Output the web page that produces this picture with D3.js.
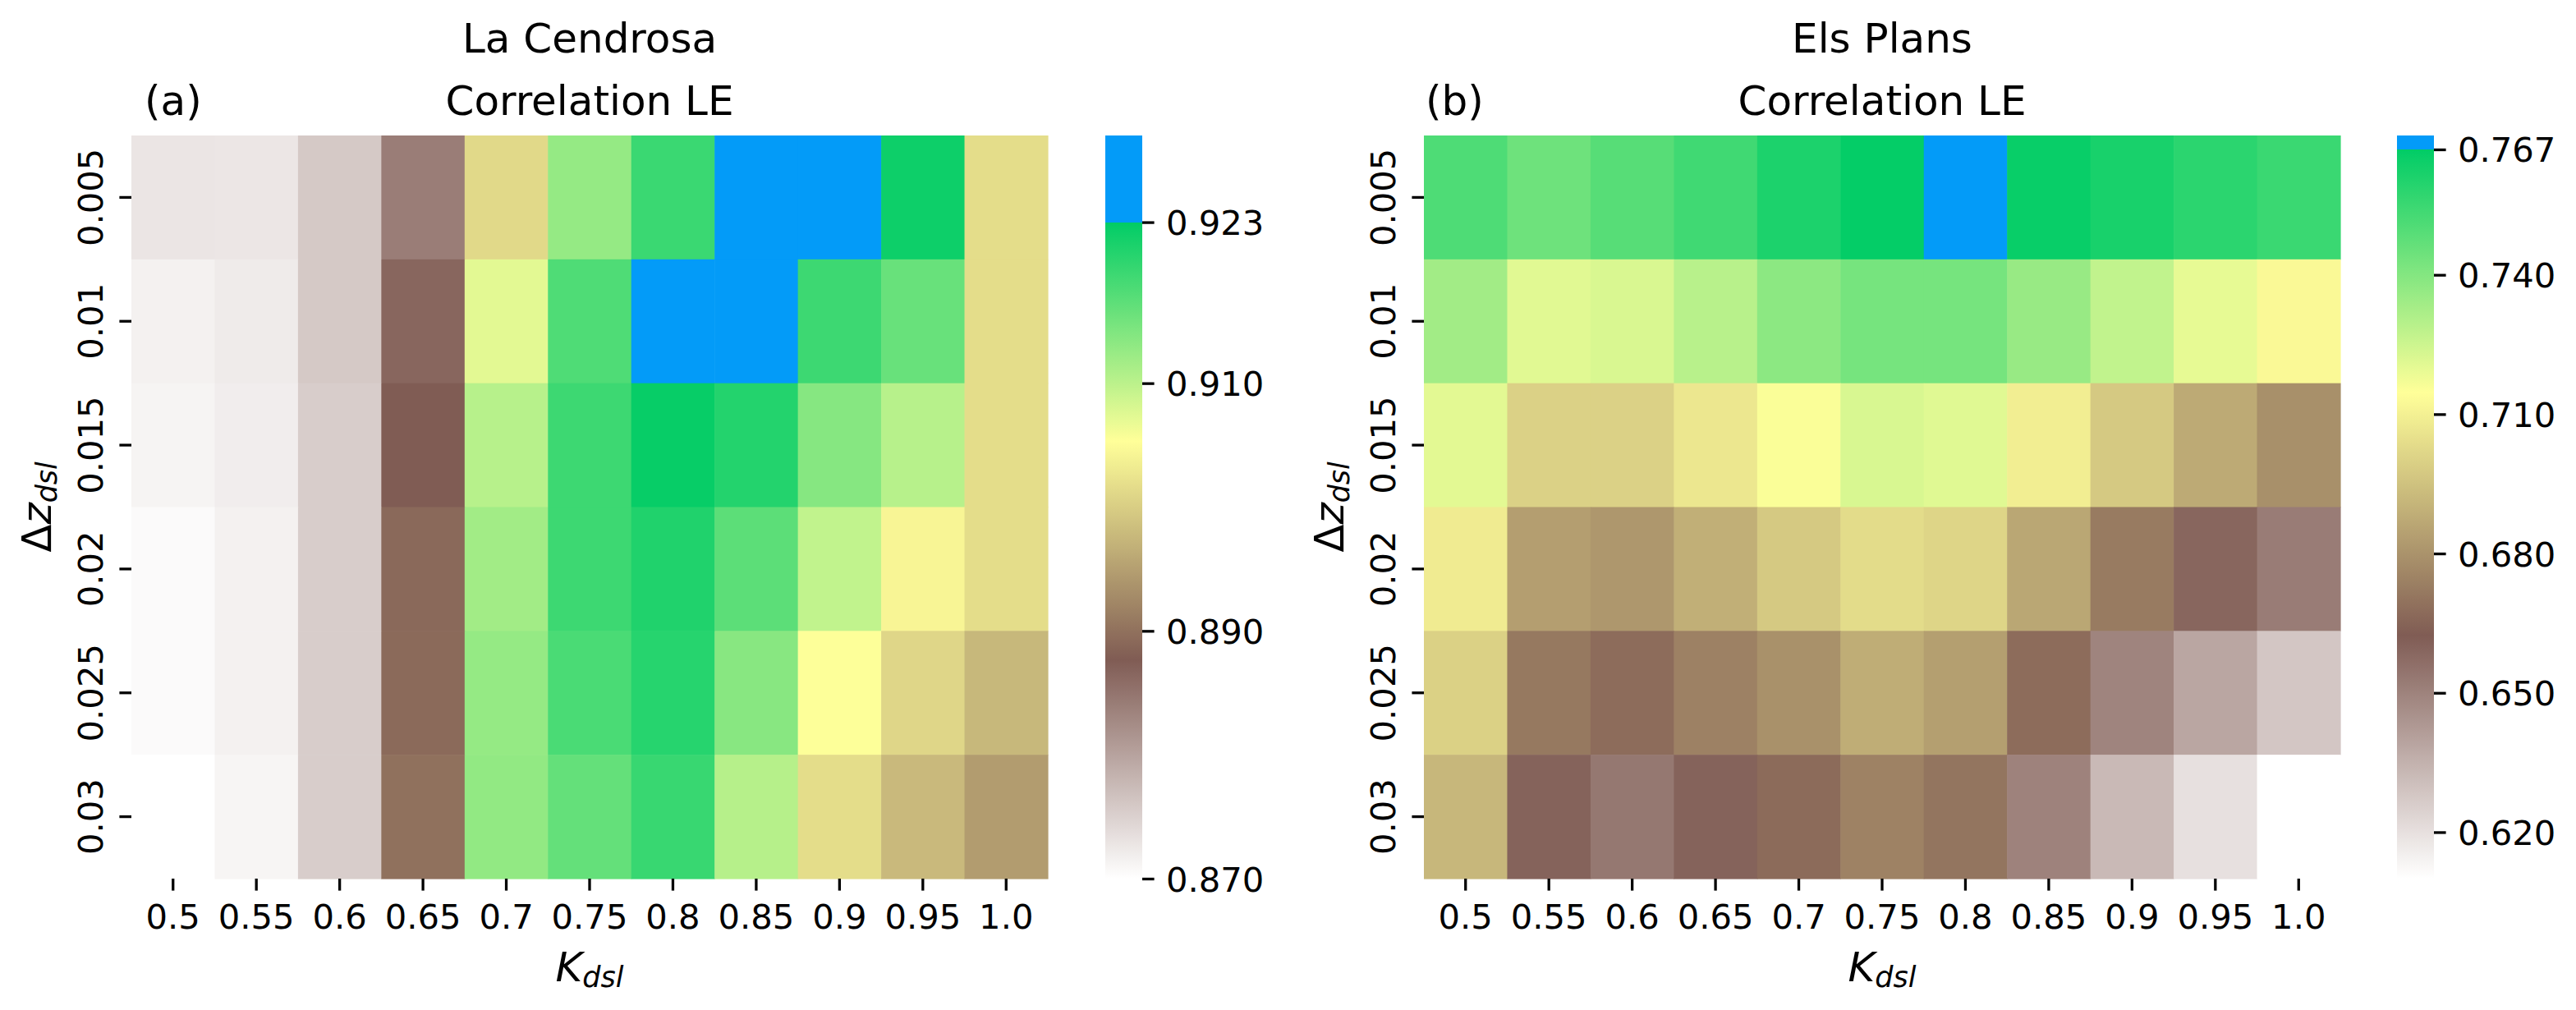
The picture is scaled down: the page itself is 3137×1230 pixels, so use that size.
<!DOCTYPE html>
<html>
<head>
<meta charset="utf-8">
<script src="https://cdn.jsdelivr.net/npm/d3@7"></script>
<style>
  html, body { margin: 0; padding: 0; background: #ffffff; }
  svg { display: block; }
  text { font-family: "DejaVu Sans", sans-serif; fill: #000; }
</style>
</head>
<body>
<script>
// ---------------- DATA ----------------
const kdslLabels = ["0.5", "0.55", "0.6", "0.65", "0.7", "0.75", "0.8", "0.85", "0.9", "0.95", "1.0"];
const dzLabels = ["0.005", "0.01", "0.015", "0.02", "0.025", "0.03"];

// La Cendrosa – Correlation LE (rows = dz, cols = K_dsl)
const cendrosaValues = [
  [0.8728, 0.8727, 0.8759, 0.8841, 0.9012, 0.9127, 0.9190, 0.9250, 0.9255, 0.9221, 0.9016],
  [0.8715, 0.8722, 0.8759, 0.8866, 0.9073, 0.9175, 0.9252, 0.9248, 0.9188, 0.9158, 0.9016],
  [0.8712, 0.8719, 0.8754, 0.8877, 0.9103, 0.9188, 0.9225, 0.9206, 0.9137, 0.9103, 0.9016],
  [0.8705, 0.8715, 0.8754, 0.8891, 0.9118, 0.9188, 0.9208, 0.9166, 0.9096, 0.9043, 0.9016],
  [0.8705, 0.8715, 0.8754, 0.8892, 0.9127, 0.9179, 0.9204, 0.9136, 0.9055, 0.9009, 0.8976],
  [0.8700, 0.8711, 0.8754, 0.8899, 0.9129, 0.9161, 0.9191, 0.9104, 0.9016, 0.8978, 0.8946]
];

// Els Plans – Correlation LE
const plansValues = [
  [0.7510, 0.7444, 0.7492, 0.7538, 0.7612, 0.7662, 0.7685, 0.7653, 0.7621, 0.7582, 0.7551],
  [0.7337, 0.7208, 0.7225, 0.7292, 0.7382, 0.7427, 0.7427, 0.7358, 0.7274, 0.7196, 0.7126],
  [0.7205, 0.7000, 0.7000, 0.7069, 0.7157, 0.7227, 0.7211, 0.7092, 0.6973, 0.6875, 0.6789],
  [0.7084, 0.6836, 0.6814, 0.6890, 0.6973, 0.7033, 0.7011, 0.6864, 0.6723, 0.6592, 0.6519],
  [0.6998, 0.6715, 0.6676, 0.6743, 0.6793, 0.6883, 0.6837, 0.6676, 0.6496, 0.6385, 0.6282],
  [0.6916, 0.6602, 0.6535, 0.6602, 0.6671, 0.6745, 0.6703, 0.6500, 0.6324, 0.6198, 0.6100]
];

const cendrosaTicks = [0.870, 0.890, 0.910, 0.923];
const plansTicks = [0.620, 0.650, 0.680, 0.710, 0.740, 0.767];

// colour range: [min, top of green, top of colourbar]
const cendrosaRange = [0.870, 0.923, 0.930];
const plansRange = [0.610, 0.767, 0.770];

const siteTitles = ["La Cendrosa", "Els Plans"];
const panelLetters = ["(a)", "(b)"];
const subTitle = "Correlation LE";

// terrain_r (lower 3/4) stops + "over" colour
const rampColors = ["#ffffff", "#805c54", "#ffff99", "#00cc66"];
const overColor = "#039bf8";

// ---------------- LAYOUT ----------------
const W = 3137, H = 1230;
const tickFont = 41.7, titleFont = 50, labelFont = 50, subFont = 35;
const tickLen = 14.6, tickW = 3.3;

const panels = [
  { values: cendrosaValues, ticks: cendrosaTicks, range: cendrosaRange, left: 160, letterX: 176, cbLeft: 1346 },
  { values: plansValues, ticks: plansTicks, range: plansRange, left: 1734, letterX: 1736, cbLeft: 2919 }
];
const hmW = 1116, hmTop = 165, hmBottom = 1070, cbW = 45;

const svg = d3.select("body").append("svg")
  .attr("width", W).attr("height", H)
  .attr("viewBox", `0 0 ${W} ${H}`);
svg.append("rect").attr("width", W).attr("height", H).attr("fill", "#fff");

const defs = svg.append("defs");

panels.forEach((p, pi) => {
  const [vmin, vmax, vtop] = p.range;
  const q = (vmax - vmin) / 3;
  const color = d3.scaleLinear()
    .domain([vmin, vmin + q, vmin + 2 * q, vmax])
    .range(rampColors)
    .interpolate(d3.interpolateRgb)
    .clamp(true);
  const fill = v => (v > vmax ? overColor : color(v));

  const x = d3.scaleBand().domain(kdslLabels).range([p.left, p.left + hmW]).padding(0);
  const y = d3.scaleBand().domain(dzLabels).range([hmTop, hmBottom]).padding(0);

  // cells
  const cells = [];
  p.values.forEach((row, ri) => row.forEach((v, ci) => cells.push({ r: dzLabels[ri], c: kdslLabels[ci], v })));
  svg.append("g").selectAll("rect").data(cells).join("rect")
    .attr("x", d => x(d.c))
    .attr("y", d => y(d.r))
    .attr("width", x.bandwidth() + 0.6)
    .attr("height", y.bandwidth() + 0.6)
    .attr("fill", d => fill(d.v));

  // x axis
  const gx = svg.append("g").attr("transform", `translate(0,${hmBottom})`)
    .call(d3.axisBottom(x).tickSize(tickLen).tickSizeOuter(0));
  gx.select(".domain").remove();
  gx.selectAll(".tick line").attr("stroke", "#000").attr("stroke-width", tickW);
  gx.selectAll(".tick text").attr("y", 61).attr("dy", 0)
    .attr("font-size", tickFont).attr("font-family", "DejaVu Sans").attr("fill", "#000");

  // y axis
  const gy = svg.append("g").attr("transform", `translate(${p.left},0)`)
    .call(d3.axisLeft(y).tickSize(tickLen).tickSizeOuter(0));
  gy.select(".domain").remove();
  gy.selectAll(".tick line").attr("stroke", "#000").attr("stroke-width", tickW);
  gy.selectAll(".tick text")
    .attr("x", 0).attr("y", 0).attr("dy", 0)
    .attr("transform", "translate(-35,0) rotate(-90)")
    .attr("text-anchor", "middle")
    .attr("font-size", tickFont).attr("font-family", "DejaVu Sans").attr("fill", "#000");

  const cx = p.left + hmW / 2;
  // titles
  svg.append("text").attr("x", cx).attr("y", 64).attr("text-anchor", "middle")
    .attr("font-size", titleFont).text(siteTitles[pi]);
  svg.append("text").attr("x", cx).attr("y", 140).attr("text-anchor", "middle")
    .attr("font-size", titleFont).text(subTitle);
  svg.append("text").attr("x", p.letterX).attr("y", 140).attr("text-anchor", "start")
    .attr("font-size", titleFont).text(panelLetters[pi]);

  // x label K_dsl
  const xl = svg.append("text").attr("x", cx).attr("y", 1195).attr("text-anchor", "middle")
    .attr("font-size", labelFont);
  xl.append("tspan").attr("font-style", "italic").text("K");
  xl.append("tspan").attr("font-style", "italic").attr("font-size", subFont).attr("dy", 7).text("dsl");

  // y label Δz_dsl
  const yl = svg.append("text")
    .attr("transform", `translate(${p.left - 98},${(hmTop + hmBottom) / 2}) rotate(-90)`)
    .attr("text-anchor", "middle").attr("font-size", labelFont);
  yl.append("tspan").text("Δ");
  yl.append("tspan").attr("font-style", "italic").text("z");
  yl.append("tspan").attr("font-style", "italic").attr("font-size", subFont).attr("dy", 7).text("dsl");

  // colourbar
  const cy = d3.scaleLinear().domain([vmin, vtop]).range([hmBottom, hmTop]);
  const gid = "cbgrad" + pi;
  const grad = defs.append("linearGradient").attr("id", gid)
    .attr("gradientUnits", "userSpaceOnUse")
    .attr("x1", 0).attr("x2", 0).attr("y1", cy(vmin)).attr("y2", cy(vtop));
  const nStops = 60;
  const stops = d3.range(nStops + 1).map(i => vmin + (vmax - vmin) * i / nStops);
  const fracMax = (vmax - vmin) / (vtop - vmin);
  grad.selectAll("stop.g").data(stops).join("stop")
    .attr("offset", d => (d - vmin) / (vtop - vmin))
    .attr("stop-color", d => color(d));
  grad.append("stop").attr("offset", fracMax).attr("stop-color", overColor);
  grad.append("stop").attr("offset", 1).attr("stop-color", overColor);

  svg.append("rect")
    .attr("x", p.cbLeft).attr("y", cy(vtop))
    .attr("width", cbW).attr("height", cy(vmin) - cy(vtop))
    .attr("fill", `url(#${gid})`);

  const gc = svg.append("g").attr("transform", `translate(${p.cbLeft + cbW},0)`)
    .call(d3.axisRight(cy).tickValues(p.ticks).tickFormat(d3.format(".3f")).tickSize(tickLen).tickSizeOuter(0));
  gc.select(".domain").remove();
  gc.selectAll(".tick line").attr("stroke", "#000").attr("stroke-width", tickW);
  gc.selectAll(".tick text").attr("x", 29).attr("dy", "0.36em")
    .attr("font-size", tickFont).attr("font-family", "DejaVu Sans").attr("fill", "#000");
});
</script>
</body>
</html>
